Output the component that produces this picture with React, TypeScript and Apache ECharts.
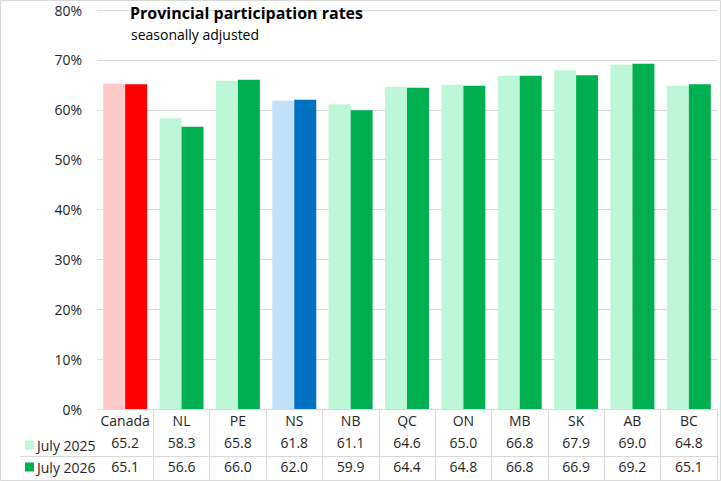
import * as echarts from "echarts";
import { useEffect, useRef } from "react";

const categories = ["Canada", "NL", "PE", "NS", "NB", "QC", "ON", "MB", "SK", "AB", "BC"];
const july2025 = [65.2, 58.3, 65.8, 61.8, 61.1, 64.6, 65.0, 66.8, 67.9, 69.0, 64.8];
const july2026 = [65.1, 56.6, 66.0, 62.0, 59.9, 64.4, 64.8, 66.8, 66.9, 69.2, 65.1];
const yTicks = [0, 10, 20, 30, 40, 50, 60, 70, 80];

const lightColors: Record<string, string> = { Canada: "#FFC9C9", NS: "#BFE2FA" };
const darkColors: Record<string, string> = { Canada: "#FF0000", NS: "#0070C0" };
const MINT = "#BDF7D7";
const GREEN = "#00B050";
const GRID_LINE = "#D9D9D9";
const FONT = "'Open Sans', 'Noto Sans', sans-serif";

export default function App(): React.ReactElement {
  const ref = useRef<HTMLDivElement | null>(null);

  useEffect(() => {
    document.body.style.margin = "0";
    const el = ref.current;
    if (el === null) return;
    const chart = echarts.init(el, null, { renderer: "svg" });

    const rowAxis = (values: number[], offset: number) => ({
      type: "category",
      data: values.map((v) => v.toFixed(1)),
      position: "bottom",
      offset,
      axisLine: { show: false },
      axisTick: { show: false },
      axisLabel: { color: "#262626", fontSize: 14, fontFamily: FONT, margin: 5, interval: 0 },
    });

    chart.setOption({
      animation: false,
      textStyle: { fontFamily: FONT },
      title: [
        {
          text: "Provincial participation rates",
          left: 130,
          top: 5,
          padding: 0,
          textStyle: { fontSize: 16, fontWeight: "bold", color: "#000", fontFamily: FONT },
        },
        {
          text: "seasonally adjusted",
          left: 131,
          top: 27,
          padding: 0,
          textStyle: { fontSize: 14, fontWeight: "normal", color: "#000", fontFamily: FONT },
        },
      ],
      legend: {
        data: ["July 2025", "July 2026"],
        orient: "vertical",
        left: 20,
        top: 433,
        itemGap: 8,
        itemWidth: 9,
        itemHeight: 9,
        icon: "rect",
        selectedMode: false,
        textStyle: { fontSize: 14, color: "#262626", fontFamily: FONT, padding: [0, 0, 0, -2] },
      },
      grid: { left: 97, right: 4, top: 10, bottom: 72 },
      xAxis: [
        {
          type: "category",
          data: categories,
          axisLine: { lineStyle: { color: GRID_LINE } },
          axisTick: {
            show: true,
            length: 71,
            interval: (index: number) => index !== 0,
            lineStyle: { color: GRID_LINE },
          },
          axisLabel: { color: "#262626", fontSize: 14, fontFamily: FONT, margin: 4, interval: 0 },
        },
        rowAxis(july2025, 21),
        rowAxis(july2026, 45),
      ],
      yAxis: {
        type: "value",
        min: yTicks[0],
        max: yTicks[yTicks.length - 1],
        interval: 10,
        axisLine: { show: false },
        axisTick: { show: false },
        axisLabel: {
          formatter: "{value}%",
          color: "#262626",
          fontSize: 14,
          fontFamily: FONT,
          margin: 15,
        },
        splitLine: { lineStyle: { color: GRID_LINE } },
      },
      series: [
        {
          name: "July 2025",
          type: "bar",
          barGap: "0%",
          barCategoryGap: "22%",
          itemStyle: { color: MINT },
          data: july2025.map((v, i) => ({
            value: v,
            itemStyle: { color: lightColors[categories[i]] ?? MINT },
          })),
        },
        {
          name: "July 2026",
          type: "bar",
          barGap: "0%",
          barCategoryGap: "22%",
          itemStyle: { color: GREEN },
          data: july2026.map((v, i) => ({
            value: v,
            itemStyle: { color: darkColors[categories[i]] ?? GREEN },
          })),
        },
      ],
      graphic: [
        {
          type: "line",
          shape: { x1: 20, y1: 456.5, x2: 717, y2: 456.5 },
          style: { stroke: GRID_LINE, lineWidth: 1 },
          silent: true,
        },
        {
          type: "rect",
          shape: { x: 0.5, y: 0.5, width: 720, height: 480 },
          style: { fill: "none", stroke: GRID_LINE, lineWidth: 1 },
          silent: true,
        },
      ],
    });

    return () => {
      chart.dispose();
    };
  }, []);

  return <div ref={ref} style={{ width: 721, height: 481 }} />;
}
